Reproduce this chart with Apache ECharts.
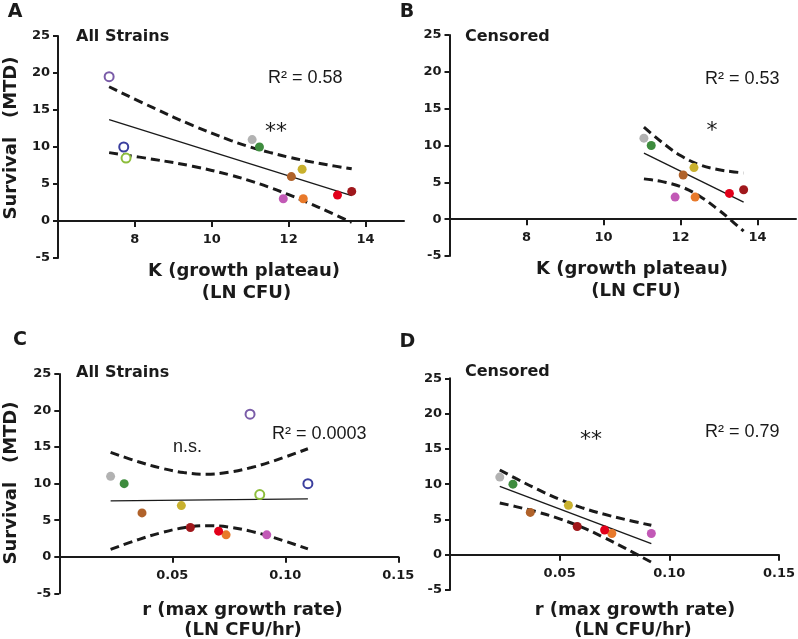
<!DOCTYPE html>
<html><head><meta charset="utf-8">
<script src="https://cdn.jsdelivr.net/npm/echarts@6/dist/echarts.min.js"></script>
<style>html,body{margin:0;padding:0;background:#fff}#c{width:798px;height:639px}</style>
</head><body><div id="c"></div>
<script>
// ---- data ----
const strains      = ['grey', 'green', 'yellow', 'brown', 'pink', 'orange', 'red', 'darkred', 'purple', 'blue', 'lightgreen'];
const kPlateau     = [11.05, 11.24, 12.35, 12.07, 11.86, 12.38, 13.27, 13.64, 7.33, 7.71, 7.77];
const maxRate      = [0.0227, 0.0287, 0.054, 0.0366, 0.0918, 0.0738, 0.0705, 0.058, 0.0844, 0.110, 0.0887];
const survivalMTD  = [11, 10, 7, 6, 3, 3, 3.5, 4, 19.5, 10, 8.5];
const censoredOut  = [false, false, false, false, false, false, false, false, true, true, true];

// regression line end points and 95% bands
const fitKAllX = [7.33, 13.64];           const fitKAllY = [13.69, 3.43];
const bandKAllX = [7.33, 8.5, 9.5, 10.5, 11.0, 11.5, 12.0, 12.5, 13.0, 13.64];
const bandKAllUp = [18.14, 15.24, 12.92, 10.87, 10.01, 9.27, 8.63, 8.08, 7.60, 7.05];
const bandKAllLo = [9.24, 8.32, 7.40, 6.19, 5.43, 4.55, 3.56, 2.48, 1.34, -0.19];

const fitKCenX = [11.05, 13.64];          const fitKCenY = [8.98, 2.32];
const bandKCenX = [11.05, 11.25, 11.5, 12.0, 12.5, 13.0, 13.3, 13.64];
const bandKCenUp = [12.48, 11.58, 10.51, 8.64, 7.38, 6.71, 6.47, 6.28];
const bandKCenLo = [5.47, 5.34, 5.13, 4.43, 3.12, 1.22, -0.09, -1.64];

const fitRAllX = [0.0227, 0.110];         const fitRAllY = [7.64, 7.92];
const bandRAllX = [0.0227, 0.035, 0.045, 0.055, 0.065, 0.075, 0.085, 0.095, 0.110];
const bandRAllUp = [14.27, 13.00, 12.13, 11.52, 11.29, 11.55, 12.20, 13.12, 14.77];
const bandRAllLo = [1.00, 2.35, 3.28, 3.96, 4.25, 4.06, 3.47, 2.61, 1.07];

const fitRCenX = [0.0227, 0.0918];        const fitRCenY = [9.68, 1.56];
const bandRCenX = [0.0227, 0.03, 0.04, 0.05, 0.06, 0.07, 0.08, 0.0918];
const bandRCenUp = [12.01, 10.81, 9.25, 7.84, 6.68, 5.76, 4.98, 4.17];
const bandRCenLo = [7.34, 6.82, 6.04, 5.09, 3.90, 2.48, 0.90, -1.06];

// axis ranges and tick values
const kMin = 6, kMax = 15;
const kTicks = [8, 10, 12, 14];
const rMin = 0, rMax = 0.15;
const rTicks = [0.05, 0.10, 0.15];
const yTicksMin = -5, yTicksMax = 25, yTickStep = 5;

// ---- styles ----
const strainColors = {
  grey: '#b2b2b2', green: '#3e8c3e', yellow: '#c9b12e', brown: '#b0622a',
  pink: '#c259b6', orange: '#e8792a', red: '#e2001a', darkred: '#a0181c',
  purple: '#7a5ca8', blue: '#3b3f9e', lightgreen: '#8dbd3c'
};
const INK = '#1a1a1a';
const BOLD = 'DejaVu Sans';

const grids = [
  {left: 58, top: 36, width: 346, height: 222},
  {left: 449.5, top: 35, width: 346.5, height: 221},
  {left: 59.3, top: 374, width: 339, height: 219.3},
  {left: 450, top: 378.3, width: 330.5, height: 211.7}
];

// label axis sits on the y = 0 line: shift it up from the grid bottom by the (0 - min) span
function zeroShift(i) { return -grids[i].height * (0 - yTicksMin) / (yTicksMax - yTicksMin); }

// main x axis: line + ticks on y = 0
function xAxisMain(i, isK) {
  return {
    gridIndex: i, type: 'value', min: isK ? kMin : rMin, max: isK ? kMax : rMax,
    axisLine: {show: true, onZero: true, lineStyle: {color: INK, width: 2}},
    axisTick: {show: true, customValues: isK ? kTicks : rTicks, length: 6, lineStyle: {color: INK, width: 2}},
    axisLabel: {show: false},
    splitLine: {show: false}
  };
}
// companion x axis (same scale) carrying only the tick labels
function xAxisLabels(i, isK) {
  return {
    gridIndex: i, type: 'value', position: 'bottom', offset: zeroShift(i),
    min: isK ? kMin : rMin, max: isK ? kMax : rMax,
    axisLine: {show: false, onZero: false},
    axisTick: {show: false},
    axisLabel: {show: true, customValues: isK ? kTicks : rTicks, margin: 12, color: INK,
      fontFamily: BOLD, fontWeight: 'bold', fontSize: 13,
      formatter: v => isK ? String(v) : v.toFixed(2)},
    splitLine: {show: false}
  };
}
function yAxisFor(i) {
  return {
    gridIndex: i, type: 'value', min: yTicksMin, max: yTicksMax, interval: yTickStep,
    axisLine: {show: true, onZero: false, lineStyle: {color: INK, width: 2}},
    axisTick: {show: true, length: 5, lineStyle: {color: INK, width: 2}},
    axisLabel: {margin: 8, color: INK, fontFamily: BOLD, fontWeight: 'bold', fontSize: 13},
    splitLine: {show: false}
  };
}
function pairs(xs, ys) { return xs.map((x, i) => [x, ys[i]]); }

function panelSeries(i, xVals, useAll, bx, up, lo, fx, fy) {
  const xi = 2 * i;
  const dashed = {color: INK, width: 3, type: [9, 5], cap: 'butt'};
  const out = [
    {type: 'line', xAxisIndex: xi, yAxisIndex: i, data: pairs(bx, up), smooth: 0.4, symbol: 'none', lineStyle: dashed, z: 2, silent: true},
    {type: 'line', xAxisIndex: xi, yAxisIndex: i, data: pairs(bx, lo), smooth: 0.4, symbol: 'none', lineStyle: dashed, z: 2, silent: true},
    {type: 'line', xAxisIndex: xi, yAxisIndex: i, data: pairs(fx, fy), symbol: 'none', lineStyle: {color: INK, width: 1.4}, z: 2, silent: true}
  ];
  const filled = [], open = [];
  strains.forEach((s, j) => {
    const pt = [xVals[j], survivalMTD[j]];
    if (!censoredOut[j]) filled.push({name: s, value: pt, itemStyle: {color: strainColors[s]}});
    else if (useAll) open.push({name: s, value: pt, itemStyle: {color: '#fff', borderColor: strainColors[s], borderWidth: 2}});
  });
  out.push({type: 'scatter', xAxisIndex: xi, yAxisIndex: i, data: filled, symbolSize: 9, itemStyle: {opacity: 1}, z: 4, silent: true});
  if (useAll) out.push({type: 'scatter', xAxisIndex: xi, yAxisIndex: i, data: open, symbolSize: 9, itemStyle: {opacity: 1}, z: 4, silent: true});
  return out;
}

function txt(text, x, y, font, align, extra) {
  return Object.assign({type: 'text', x: x, y: y, silent: true,
    style: {text: text, font: font, fill: INK, textAlign: align || 'center', textVerticalAlign: 'middle'}}, extra || {});
}
const fLetter = 'bold 19px "DejaVu Sans"';
const fSub = 'bold 16px "DejaVu Sans"';
const fTitle = 'bold 18px "DejaVu Sans"';
const fReg = '18px "Liberation Sans"';
const fStar = '22px "DejaVu Sans"';

const graphics = [
  txt('A', 15, 12, fLetter), txt('B', 407, 12, fLetter), txt('C', 20, 340.5, fLetter), txt('D', 407.5, 342.5, fLetter),
  txt('All Strains', 76, 37, fSub, 'left'), txt('Censored', 465, 36.5, fSub, 'left'),
  txt('All Strains', 76, 372.5, fSub, 'left'), txt('Censored', 465, 371.5, fSub, 'left'),
  txt('R² = 0.58', 268, 78.5, fReg, 'left'), txt('R² = 0.53', 705, 79.5, fReg, 'left'),
  txt('R² = 0.0003', 272, 434.5, fReg, 'left'), txt('R² = 0.79', 705, 432.5, fReg, 'left'),
  txt('**', 276, 132, fStar), txt('*', 712, 131, fStar), txt('**', 591, 440, fStar),
  txt('n.s.', 187.5, 447, fReg),
  txt('K (growth plateau)', 244, 271, fTitle), txt('(LN CFU)', 246.5, 293, fTitle),
  txt('K (growth plateau)', 632, 269, fTitle), txt('(LN CFU)', 636, 291.5, fTitle),
  txt('r (max growth rate)', 242.5, 610, fTitle), txt('(LN CFU/hr)', 243, 630.5, fTitle),
  txt('r (max growth rate)', 635, 610, fTitle), txt('(LN CFU/hr)', 633, 630, fTitle),
  txt('Survival   (MTD)', 11, 138, fTitle, 'center', {rotation: Math.PI / 2}),
  txt('Survival   (MTD)', 11, 483, fTitle, 'center', {rotation: Math.PI / 2})
];

const chart = echarts.init(document.getElementById('c'), null, {renderer: 'canvas'});
chart.setOption({
  animation: false,
  backgroundColor: '#fff',
  grid: grids,
  xAxis: [
    xAxisMain(0, true), xAxisLabels(0, true),
    xAxisMain(1, true), xAxisLabels(1, true),
    xAxisMain(2, false), xAxisLabels(2, false),
    xAxisMain(3, false), xAxisLabels(3, false)
  ],
  yAxis: [yAxisFor(0), yAxisFor(1), yAxisFor(2), yAxisFor(3)],
  series: [].concat(
    panelSeries(0, kPlateau, true, bandKAllX, bandKAllUp, bandKAllLo, fitKAllX, fitKAllY),
    panelSeries(1, kPlateau, false, bandKCenX, bandKCenUp, bandKCenLo, fitKCenX, fitKCenY),
    panelSeries(2, maxRate, true, bandRAllX, bandRAllUp, bandRAllLo, fitRAllX, fitRAllY),
    panelSeries(3, maxRate, false, bandRCenX, bandRCenUp, bandRCenLo, fitRCenX, fitRCenY)
  ),
  graphic: graphics
});
</script>
</body></html>
